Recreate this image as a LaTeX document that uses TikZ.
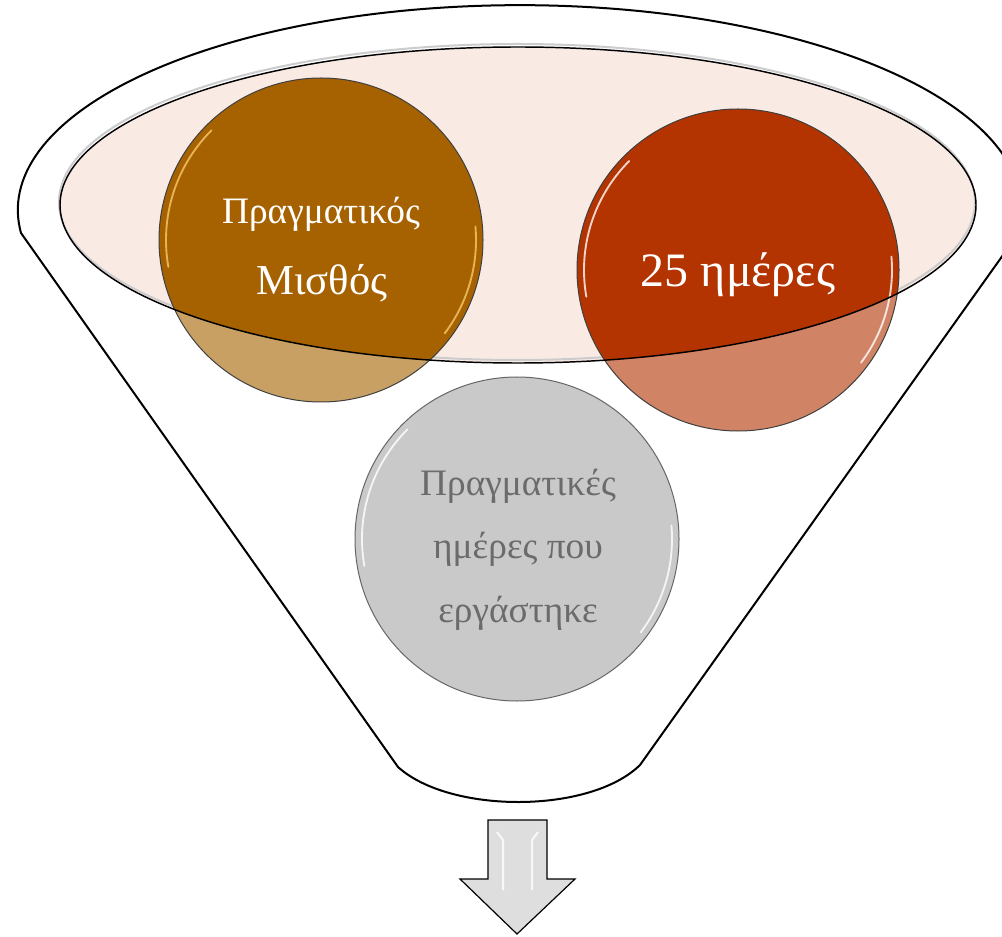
\documentclass[tikz,border=0pt]{standalone}
\usepackage{fontspec}
\setmainfont{Liberation Serif}
\definecolor{salarydark}{HTML}{A66200}
\definecolor{salarylight}{HTML}{C9A063}
\definecolor{salarygloss}{HTML}{F8C86A}
\definecolor{daysdark}{HTML}{B33400}
\definecolor{dayslight}{HTML}{D18366}
\definecolor{workedfill}{HTML}{C9C9C9}
\definecolor{workedtext}{HTML}{6B6B6B}
\definecolor{rimfill}{HTML}{FAEAE4}
\definecolor{arrowfill}{HTML}{DEDEDE}

\begin{document}
\begin{tikzpicture}[x=0.75pt,y=-0.75pt,
  rim/.style={line width=1.5pt},
  ball/.style={draw=black!75,line width=0.75pt},
  gloss/.style={white,line width=1.4pt,opacity=0.8,line cap=round},
  label/.style={anchor=base,inner sep=0pt}]
\useasboundingbox (0,0) rectangle (1002,937);
% funnel
\filldraw[fill=white,rim] (21,233) arc[start angle=173.6,end angle=366.4,x radius=502,y radius=205]
  -- (640,765) .. controls (590,814) and (450,814) .. (398,767) -- cycle;
\fill[rimfill] (518,205) ellipse[x radius=458,y radius=158];
\draw[black!20,line width=1.5pt] (517,202) ellipse[x radius=458,y radius=158];
% balls
\coordinate (salary) at (321,240);
\coordinate (days) at (738,270);
\coordinate (worked) at (517,539);
\fill[salarylight] (salary) circle[radius=162];
\fill[dayslight] (days) circle[radius=161];
\fill[workedfill] (worked) circle[radius=162];
\begin{scope}
\clip (518,205) ellipse[x radius=458,y radius=158];
\fill[salarydark] (salary) circle[radius=162];
\fill[daysdark] (days) circle[radius=161];
\end{scope}
\draw[gloss,salarygloss] ([shift={(170:155)}]salary) arc[start angle=170,end angle=225,radius=155];
\draw[gloss,salarygloss] ([shift={(-5:155)}]salary) arc[start angle=-5,end angle=37,radius=155];
\draw[gloss] ([shift={(170:154)}]days) arc[start angle=170,end angle=225,radius=154];
\draw[gloss] ([shift={(-5:154)}]days) arc[start angle=-5,end angle=37,radius=154];
\draw[gloss] ([shift={(170:155)}]worked) arc[start angle=170,end angle=225,radius=155];
\draw[gloss] ([shift={(-5:155)}]worked) arc[start angle=-5,end angle=37,radius=155];
\draw[ball] (salary) circle[radius=162];
\draw[ball] (days) circle[radius=161];
\draw[ball,draw=black!60] (worked) circle[radius=162];
\draw[line width=1.1pt] (518,205) ellipse[x radius=458,y radius=158];
% texts
\node[label,white,font=\fontsize{28}{34}\selectfont] (salaryA) at (321,224) {Πραγματικός};
\node[label,white,font=\fontsize{32}{38}\selectfont] (salaryB) at (322,295) {Μισθός};
\node[label,white,font=\fontsize{36}{43}\selectfont] (daysA) at (738,287) {25 ημέρες};
\node[label,workedtext,font=\fontsize{28}{34}\selectfont] (workedA) at (518,495) {Πραγματικές};
\node[label,workedtext,font=\fontsize{28}{34}\selectfont] (workedB) at (518,558) {ημέρες που};
\node[label,workedtext,font=\fontsize{28}{34}\selectfont] (workedC) at (518,622) {εργάστηκε};
% arrow
\filldraw[fill=arrowfill,line width=0.9pt] (488,820) -- (547,820) -- (547,879) -- (575,879)
  -- (517,934) -- (460,879) -- (488,879) -- cycle;
\draw[white,line width=1.5pt,opacity=0.8] (497,832) -- (503,840) -- (503,890);
\draw[white,line width=1.5pt,opacity=0.8] (538,832) -- (532,840) -- (532,890);
\end{tikzpicture}
\end{document}
